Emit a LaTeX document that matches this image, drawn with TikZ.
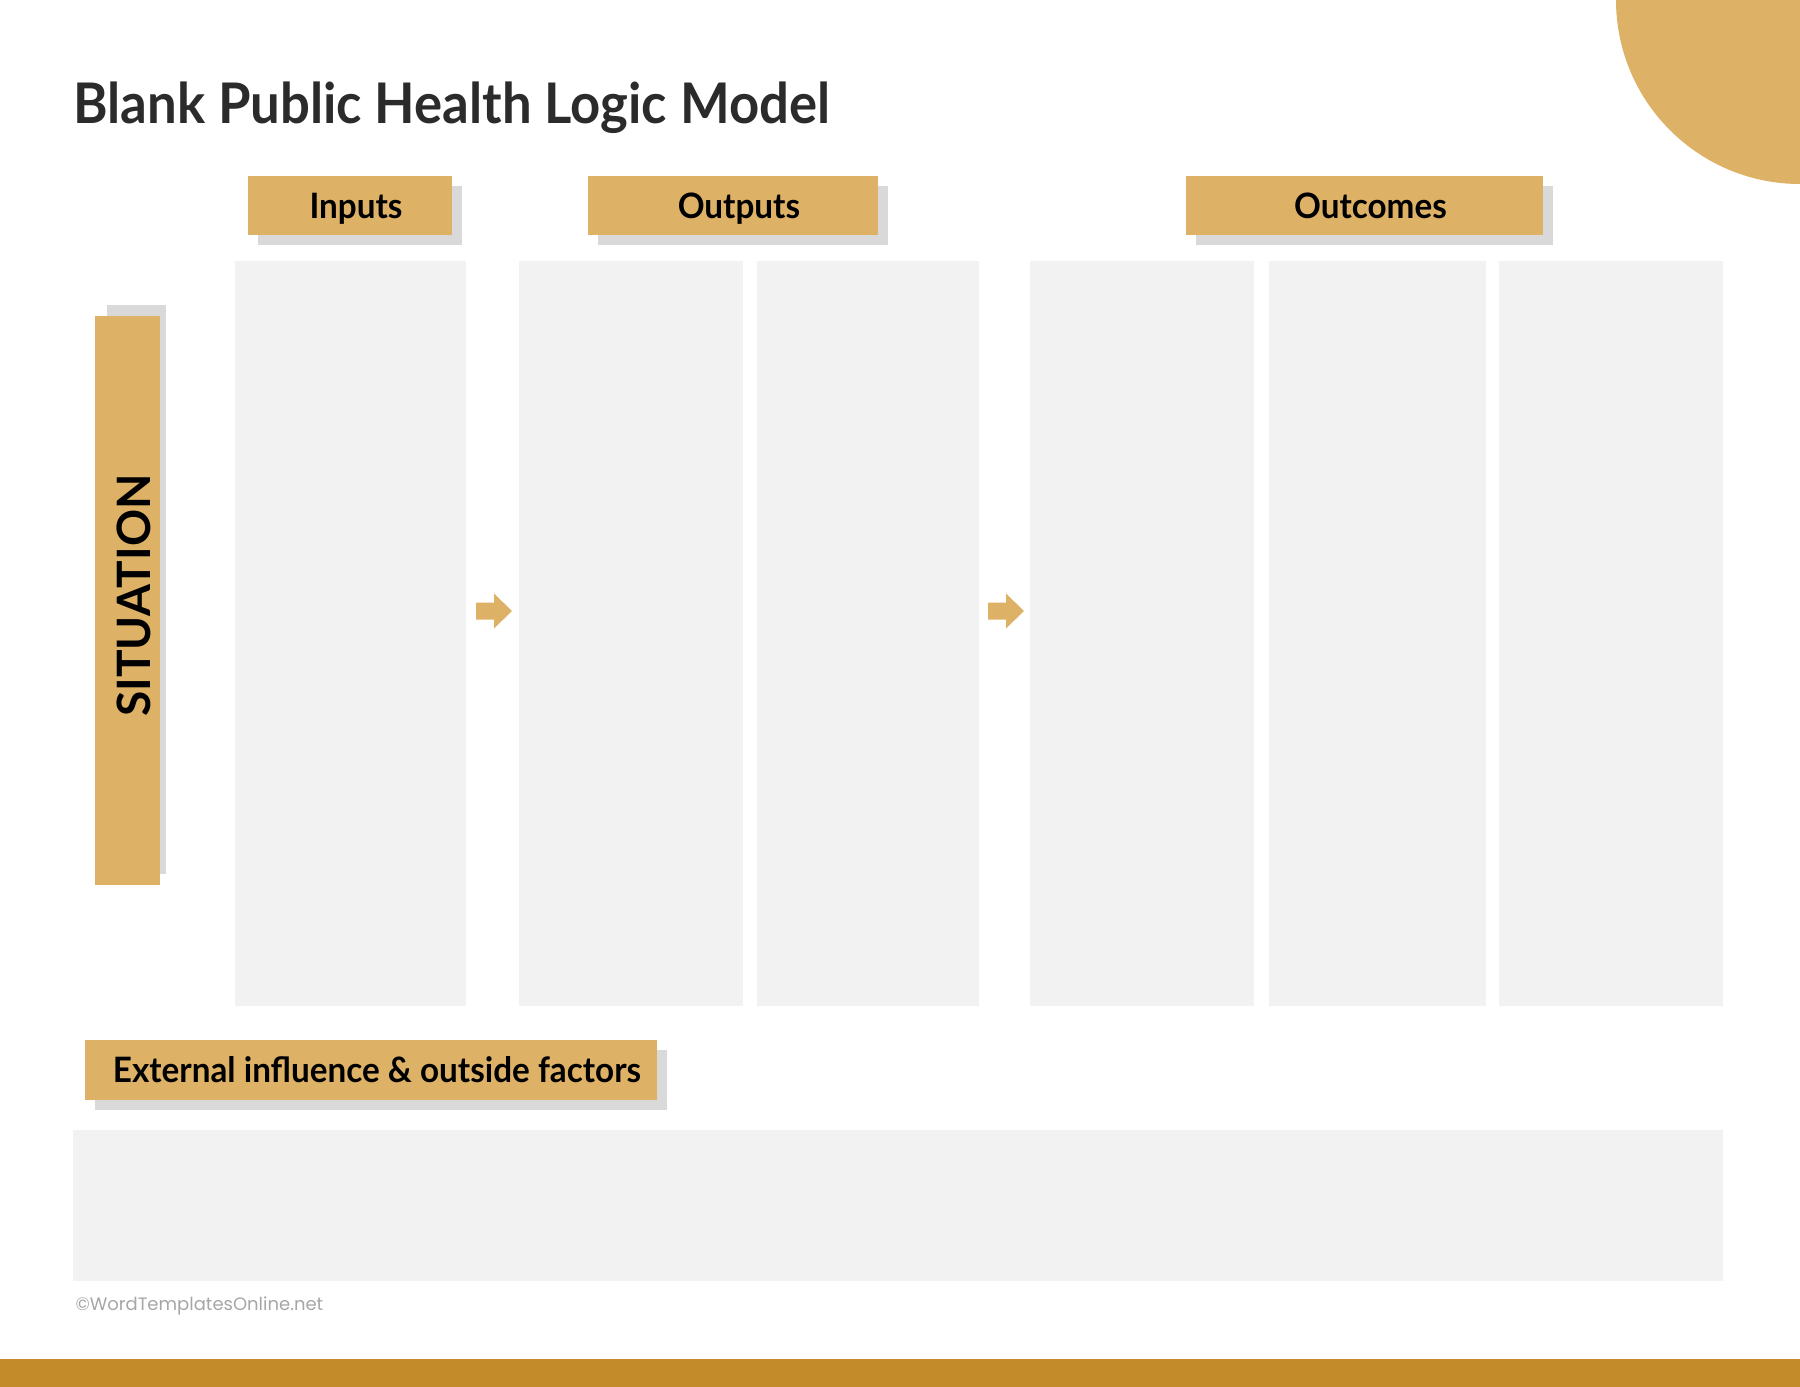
\documentclass[tikz,border=0pt]{standalone}
\usepackage{fontspec}
\setmainfont{Lato}
\newfontfamily\headfont[FakeStretch=0.94]{Lato}
\newfontfamily\tabfont[FakeStretch=0.95]{Lato}
\newfontfamily\markfont{Poppins}
\definecolor{gold}{HTML}{DEB266}
\definecolor{ochre}{HTML}{C48B2B}
\definecolor{panel}{HTML}{F2F2F2}
\definecolor{shade}{HTML}{D9D9D9}
\definecolor{ink}{HTML}{2B2B2B}
\definecolor{mark}{HTML}{A6A6A6}
\tikzset{
  box/.style={inner sep=0pt, outer sep=0pt, anchor=north west},
  panelbox/.style={box, fill=panel},
  tab/.style={box, fill=gold, text=black, text height=25pt, text depth=0pt,
    execute at begin node=\hspace*{12pt},
    font=\tabfont\bfseries\fontsize{35}{40}\selectfont},
  tabshade/.style={box, fill=shade},
  blockarrow/.style={fill=gold}
}
\begin{document}
\begin{tikzpicture}[x=1pt, y=-1pt]
  \useasboundingbox (0,0) rectangle (1800,1387);
  % corner disc and footer band
  \begin{scope}
    \clip (0,0) rectangle (1800,1387);
    \fill[gold] (1800,0) circle (184);
    \fill[ochre] (0,1359) rectangle (1800,1387);
  \end{scope}

  \node[anchor=base west, text=ink, font=\headfont\bfseries\fontsize{56}{60}\selectfont] (title) at (70,123) {Blank Public Health Logic Model};

  % column panels
  \foreach \x/\w [count=\i] in {235/231, 519/224, 757/222, 1030/224, 1269/217, 1499/224}
    \node[panelbox, minimum width=\w pt, minimum height=745pt] (col\i) at (\x,261) {};

  % header tabs
  \node[tabshade, minimum width=204pt, minimum height=59pt] (inshade) at (258,186) {};
  \node[tab, minimum width=204pt, minimum height=59pt] (inputs) at (248,176) {Inputs};
  \node[tabshade, minimum width=290pt, minimum height=59pt] (outshade) at (598,186) {};
  \node[tab, minimum width=290pt, minimum height=59pt] (outputs) at (588,176) {Outputs};
  \node[tabshade, minimum width=357pt, minimum height=59pt] (ocshade) at (1196,186) {};
  \node[tab, minimum width=357pt, minimum height=59pt] (outcomes) at (1186,176) {Outcomes};

  % situation bar
  \node[tabshade, minimum width=59pt, minimum height=569pt] (sitshade) at (107,305) {};
  \node[box, fill=gold, minimum width=65pt, minimum height=569pt] (sit) at (95,316) {};
  \node[rotate=90, font=\bfseries\fontsize{46}{50}\selectfont] (sitlabel) at ([xshift=6pt,yshift=5pt]sit.center) {SITUATION};

  % arrows between panels
  \coordinate (arrow1) at (476,611);
  \coordinate (arrow2) at (988,611);
  \foreach \a in {arrow1, arrow2}
    \fill[blockarrow] ([shift={(0,-8.5)}]\a) -- ++(18,0) -- ++(0,-9) -- ++(18,17.5)
      -- ++(-18,17.5) -- ++(0,-9) -- ++(-18,0) -- cycle;

  % external factors
  \node[tabshade, minimum width=572pt, minimum height=60pt] (extshade) at (95,1050) {};
  \node[tab, minimum width=572pt, minimum height=60pt] (external) at (85,1040) {External influence \& outside factors};
  \node[panelbox, minimum width=1650pt, minimum height=151pt] (extpanel) at (73,1130) {};

  \node[anchor=base west, text=mark, font=\markfont\fontsize{18}{20}\selectfont] (credit) at (72,1310) {©WordTemplatesOnline.net};
\end{tikzpicture}
\end{document}
